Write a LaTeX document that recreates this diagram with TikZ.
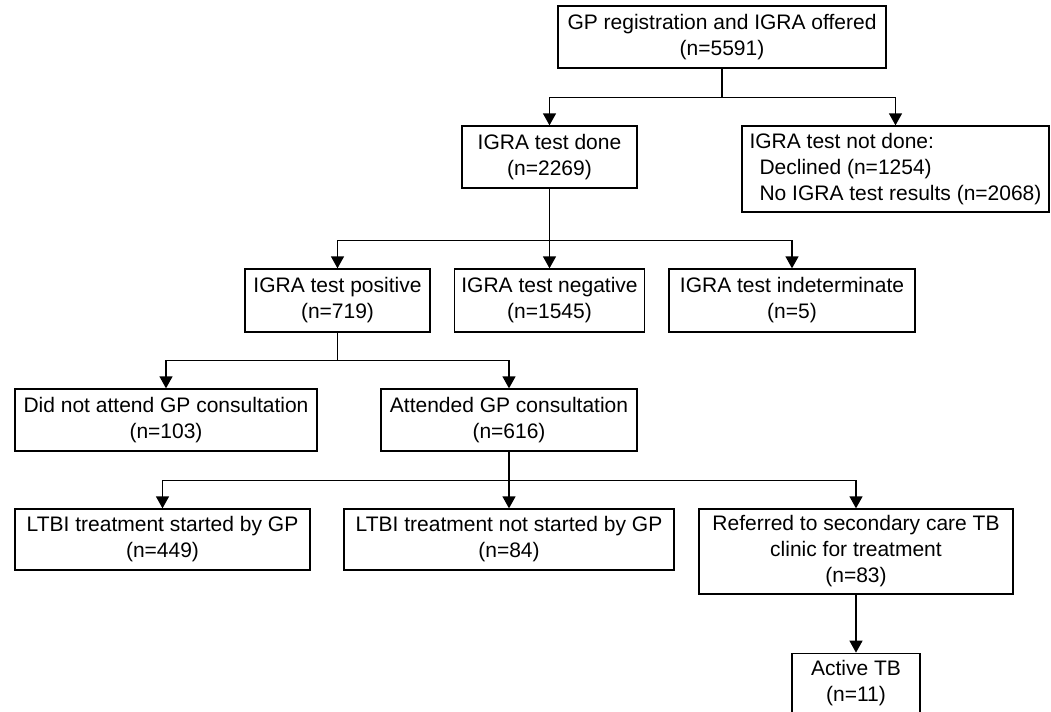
\documentclass[tikz,border=0pt]{standalone}
\usepackage{fontspec}
\setmainfont{Liberation Sans}
\usetikzlibrary{arrows.meta, positioning}

\tikzset{
  box/.style={draw, line width=0.65pt, align=center, inner sep=2pt, font=\fontsize{10.5}{13}\selectfont},
  link/.style={line width=0.65pt},
  arr/.style={line width=0.65pt, -{Triangle[width=6.5pt,length=6pt]}}
}

\begin{document}
\begin{tikzpicture}[x=0.5pt, y=-0.5pt]
\useasboundingbox (0,0) rectangle (1051,712);

\node[box, minimum width=164pt, minimum height=31pt] (offered) at (722,37) {GP registration and IGRA offered\\(n=5591)};
\node[box, minimum width=87.5pt, minimum height=31pt] (done) at (549.5,157) {IGRA test done\\(n=2269)};
\node[box, align=left, minimum width=153.5pt, minimum height=43pt] (notdone) at (895.5,169) {IGRA test not done:\\\hspace*{5pt}Declined (n=1254)\\\hspace*{5pt}No IGRA test results (n=2068)};

\node[box, minimum width=92.5pt, minimum height=31.5pt] (pos) at (337.5,300.5) {IGRA test positive\\(n=719)};
\node[box, minimum width=95pt, minimum height=31.5pt] (neg) at (549.5,300.5) {IGRA test negative\\(n=1545)};
\node[box, minimum width=123pt, minimum height=31.5pt] (indet) at (792,300.5) {IGRA test indeterminate\\(n=5)};

\node[box, minimum width=151pt, minimum height=31pt] (noattend) at (166,420) {Did not attend GP consultation\\(n=103)};
\node[box, minimum width=128pt, minimum height=31pt] (attend) at (509,420) {Attended GP consultation\\(n=616)};

\node[box, minimum width=147.5pt, minimum height=30.5pt] (started) at (162.5,539.5) {LTBI treatment started by GP\\(n=449)};
\node[box, minimum width=165pt, minimum height=30.5pt] (notstarted) at (509,539.5) {LTBI treatment not started by GP\\(n=84)};
\node[box, minimum width=157pt, minimum height=42.5pt] (referred) at (856,551.5) {Referred to secondary care TB\\clinic for treatment\\(n=83)};
\node[box, below=29pt of referred, minimum width=64pt, minimum height=29.5pt] (active) {Active TB\\(n=11)};

% first split
\draw[link] (offered.south) -- ++(0,29) coordinate (f1);
\draw[arr] (f1) -| (done.north);
\draw[arr] (f1) -| (notdone.north);

% test results
\draw[link] (done.south) -- ++(0,52) coordinate (f2);
\draw[arr] (f2) -| (pos.north);
\draw[arr] (f2) -- (neg.north);
\draw[arr] (f2) -| (indet.north);

% consultation
\draw[link] (pos.south) -- ++(0,28) coordinate (f3);
\draw[arr] (f3) -| (noattend.north);
\draw[arr] (f3) -| (attend.north);

% treatment
\draw[link] (attend.south) -- ++(0,29) coordinate (f4);
\draw[arr] (f4) -| (started.north);
\draw[arr] (f4) -- (notstarted.north);
\draw[arr] (f4) -| (referred.north);
\draw[arr] (referred) -- (active);
\end{tikzpicture}
\end{document}
